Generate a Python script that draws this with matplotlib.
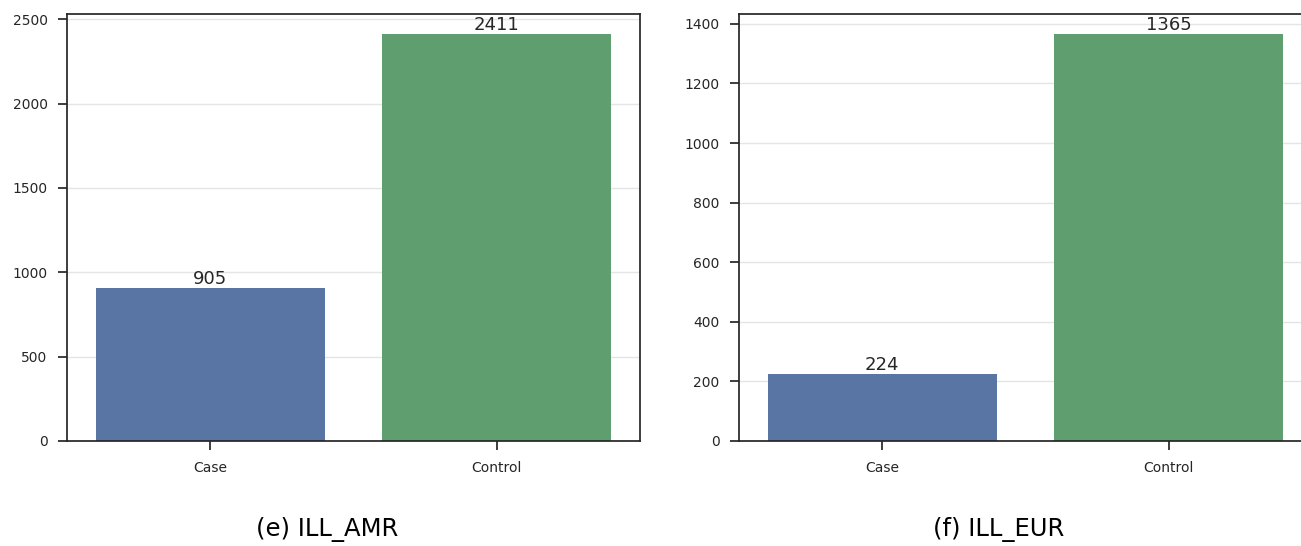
import matplotlib
matplotlib.use("Agg")
import matplotlib.pyplot as plt

# data
categories = ["Case", "Control"]
amr_counts = [905, 2411]
eur_counts = [224, 1365]
captions = ["(e) ILL_AMR", "(f) ILL_EUR"]
bar_colors = ["#5975a4", "#5f9e6e"]

plt.rcParams["font.family"] = ["DejaVu Sans"]
text_color = "#262626"

fig = plt.figure(figsize=(13.01, 5.46), dpi=100)
W, H = 1301, 546

def draw_panel(left_px, counts, yticks):
    ax = fig.add_axes([left_px / W, (H - 441) / H, 573 / W, 427 / H])
    x = list(range(len(categories)))
    ax.bar(x, counts, width=0.8, color=bar_colors, zorder=2)
    ax.set_xlim(-0.5, len(categories) - 0.5)
    ax.set_ylim(0, max(counts) * 1.05)
    ax.set_xticks(x)
    ax.set_xticklabels(categories)
    ax.set_yticks(yticks)
    ax.yaxis.grid(True, color="#e5e5e5", linewidth=1.0, zorder=0)
    ax.set_axisbelow(True)
    for s in ax.spines.values():
        s.set_color(text_color)
        s.set_linewidth(1.25)
    ax.tick_params(axis="both", colors=text_color, labelsize=10, length=6.5, width=1.25)
    ax.tick_params(axis="y", pad=7.5)
    ax.tick_params(axis="x", pad=8)
    for xi, v in zip(x, counts):
        ax.text(xi, v, str(v), ha="center", va="bottom", fontsize=13, color=text_color)
    return ax

draw_panel(67, amr_counts, range(0, 2501, 500))
draw_panel(739, eur_counts, range(0, 1401, 200))

fig.text(327 / W, 16 / H, captions[0], ha="center", va="center", fontsize=17.5, color="black")
fig.text(999 / W, 16 / H, captions[1], ha="center", va="center", fontsize=17.5, color="black")

fig.savefig("out.png", dpi=100)
